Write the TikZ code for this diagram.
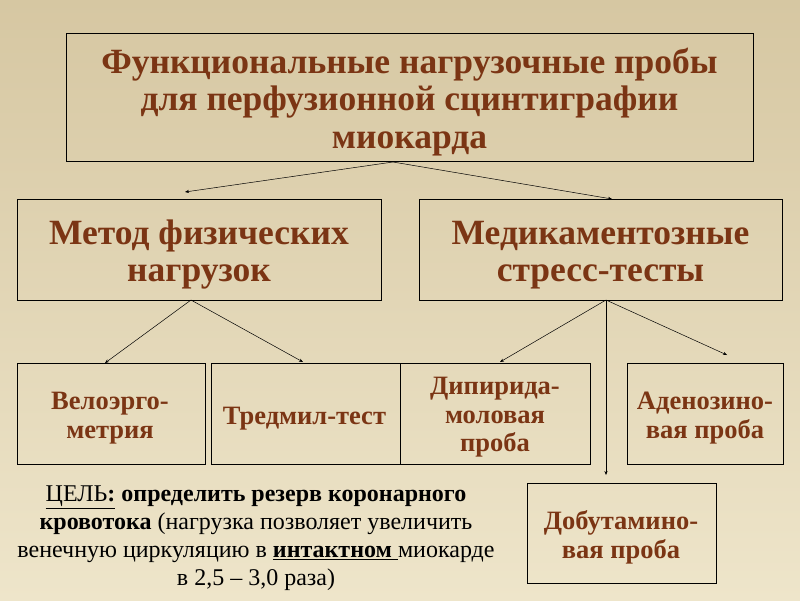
\documentclass[tikz,border=0pt]{standalone}
\usepackage{fontspec}
\setmainfont{Liberation Serif}
\usetikzlibrary{arrows.meta}
\definecolor{bgtop}{HTML}{D6C7A2}
\definecolor{bgmid}{HTML}{F3EDD6}
\definecolor{bgbot}{HTML}{EEE5CA}
\definecolor{txtbrown}{HTML}{7B3514}

\begin{document}
\begin{tikzpicture}[x=1pt,y=-1pt,
                    box/.style={draw=black,line width=0.6pt,rectangle,inner sep=0pt},
                    lbl/.style={align=center,inner sep=0pt,text=txtbrown},
                    bigtxt/.style={lbl,font=\bfseries\fontsize{35.5}{37.5}\selectfont},
                    midtxt/.style={lbl,font=\bfseries\fontsize{35.5}{36.5}\selectfont},
                    smalltxt/.style={lbl,font=\bfseries\fontsize{26.5}{28.5}\selectfont},
                    link/.style={draw=black,line width=0.5pt,-{Stealth[length=4pt,width=3.2pt]}}]
                          \shade[top color=bgtop,middle color=bgmid,bottom color=bgbot] (0,0) rectangle (800,600);
                          \useasboundingbox (0,0) rectangle (800,600);

                          % boxes
                          \node[box,minimum width=687pt,minimum height=128pt] (main) at (409.5,97) {};
                          \node[box,minimum width=364pt,minimum height=101pt] (phys) at (199,249.5) {};
                          \node[box,minimum width=363pt,minimum height=101pt] (drug) at (600.5,249.5) {};
                          \node[box,minimum width=188pt,minimum height=101pt] (velo) at (111,413.5) {};
                          \node[box,minimum width=189pt,minimum height=101pt] (tread) at (305.5,413.5) {};
                          \node[box,minimum width=190pt,minimum height=101pt] (dipy) at (495,413.5) {};
                          \node[box,minimum width=156pt,minimum height=101pt] (adeno) at (705.5,413.5) {};
                          \node[box,minimum width=189pt,minimum height=100pt] (dobu) at (621.5,533) {};

                          % texts
                          \node[bigtxt] (maintxt) at (409.5,103.2)
                               {\strut Функциональные нагрузочные пробы\\для перфузионной сцинтиграфии\\миокарда\strut};
                          \node[midtxt] (phystxt) at (199,255.7) {\strut Метод физических\\нагрузок\strut};
                          \node[midtxt] (drugtxt) at (600.5,255.7) {\strut Медикаментозные\\стресс-тесты\strut};
                          \node[smalltxt] (velotxt) at (110,418.5) {\strut Велоэрго-\\метрия\strut};
                          \node[smalltxt] (treadtxt) at (304.5,418.6) {\strut Тредмил-тест\strut};
                          \node[smalltxt] (dipytxt) at (495,417.3) {\strut Дипирида-\\моловая\\проба\strut};
                          \node[smalltxt] (adenotxt) at (705,418.5) {\strut Аденозино-\\вая проба\strut};
                          \node[smalltxt] (dobutxt) at (621,538.5) {\strut Добутамино-\\вая проба\strut};

                          \node[align=center,inner sep=0pt,font=\fontsize{24}{27.8}\selectfont] (goal) at (256,537.8)
                               {\strut\underline{ЦЕЛЬ\textbf{:}} \textbf{определить резерв коронарного}\\
                                \textbf{кровотока} (нагрузка позволяет увеличить\\
                                венечную циркуляцию в \underline{\textbf{интактном }}миокарде\\
                                в 2,5 – 3,0 раза)\strut};

                          % connectors
                          \coordinate (O) at (393,162);
                          \coordinate (A) at (185,192);
                          \coordinate (B) at (612,199);
                          \coordinate (C) at (191,300);
                          \coordinate (D) at (105,363);
                          \coordinate (E) at (303,362);
                          \coordinate (F) at (606,300);
                          \coordinate (G) at (500,362);
                          \coordinate (H) at (727,355);
                          \coordinate (I) at (606,475);

                          \draw[link] (O) -- (A);
                          \draw[link] (O) -- (B);
                          \draw[link] (C) -- (D);
                          \draw[link] (C) -- (E);
                          \draw[link] (F) -- (G);
                          \draw[link] (F) -- (H);
                          \draw[link] (F) -- (I);
                          \end{tikzpicture}
\end{document}
